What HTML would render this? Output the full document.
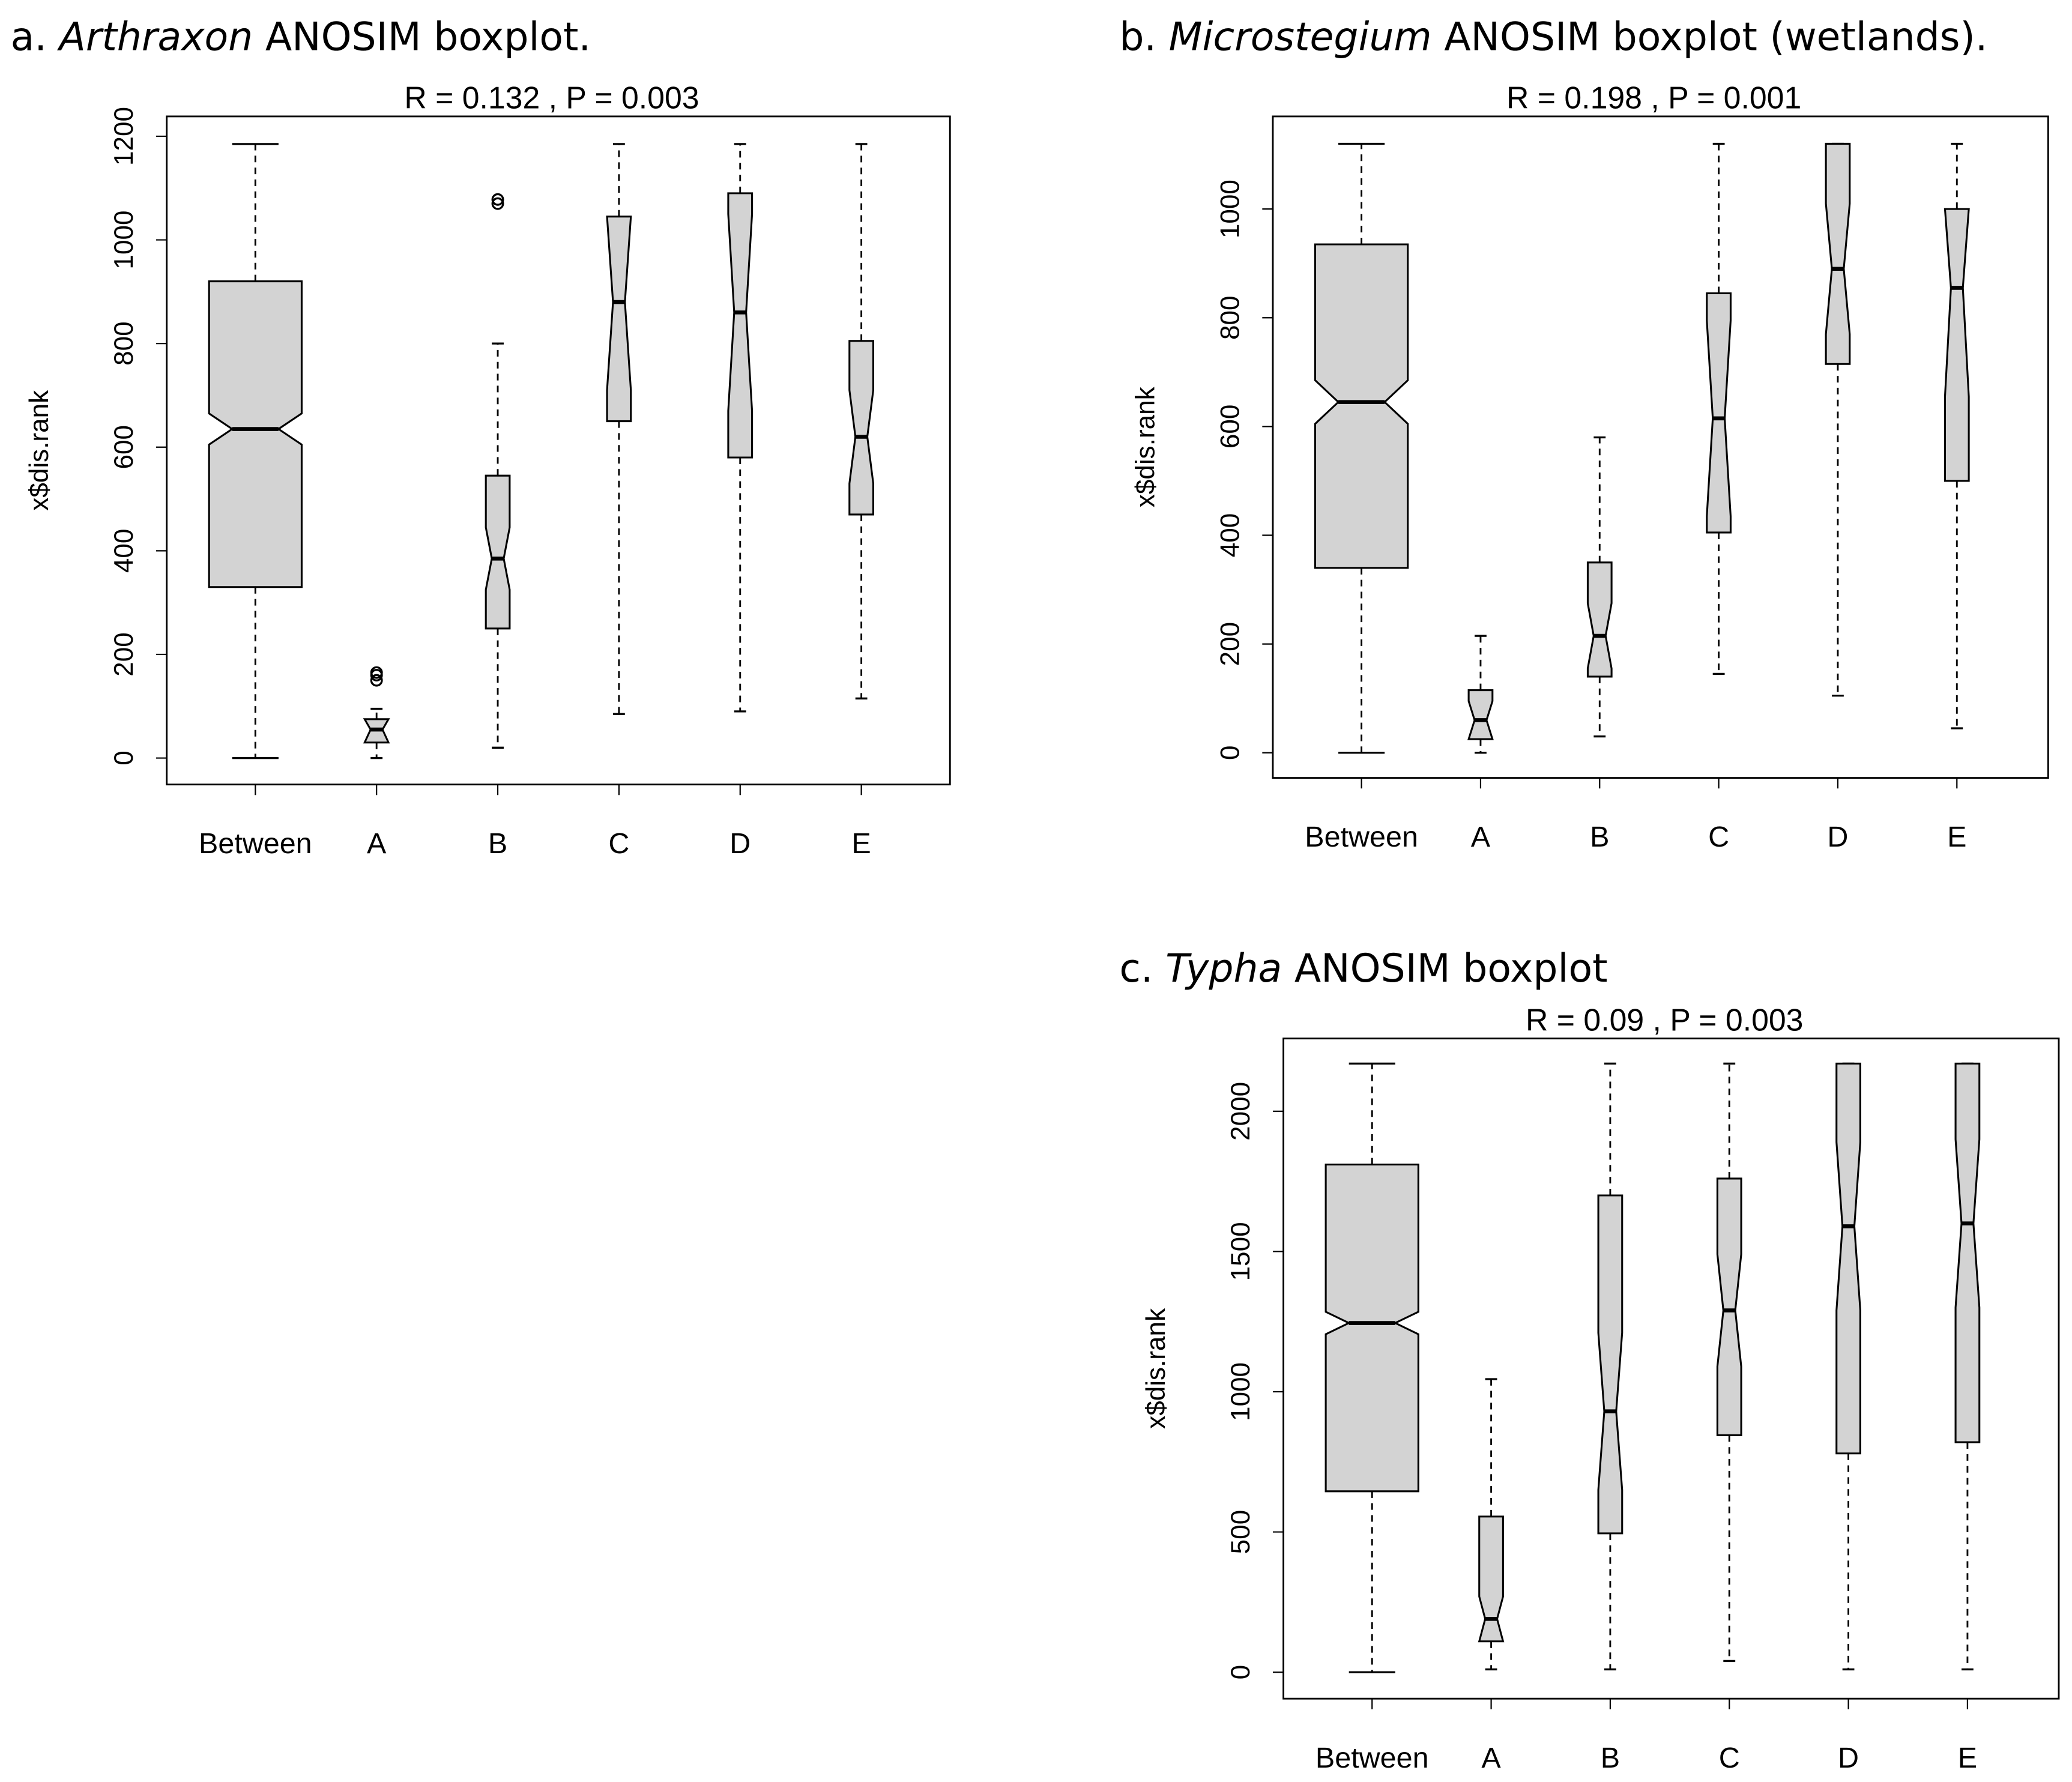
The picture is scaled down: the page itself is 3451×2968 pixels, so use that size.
<!DOCTYPE html>
<html><head><meta charset="utf-8"><style>
html,body{margin:0;padding:0;background:#fff;}
svg{display:block;}
text{font-family:"Liberation Sans",sans-serif;}
.ttl{font-family:"DejaVu Sans","Liberation Sans",sans-serif;font-size:29.4px;}
</style></head><body>
<svg id="chart" width="3451" height="2968" viewBox="0 0 1566 1347" preserveAspectRatio="none" xmlns="http://www.w3.org/2000/svg">
<text class="ttl" x="8" y="38">a. <tspan font-style="italic">Arthraxon</tspan> ANOSIM boxplot.</text>
<text class="ttl" x="846" y="38">b. <tspan font-style="italic">Microstegium</tspan> ANOSIM boxplot (wetlands).</text>
<text class="ttl" x="846" y="742">c. <tspan font-style="italic">Typha</tspan> ANOSIM boxplot</text>
</svg>
<script>
const categories = ["Between","A","B","C","D","E"];
// panel a
const aMin=[0,0,20,85,90,115], aQ1=[330,30,250,650,580,470], aMed=[635,55,385,880,860,620], aQ3=[920,75,545,1045,1090,805], aMax=[1185,95,800,1185,1185,1185];
const aNotch=[30,25,60,170,190,90];
const aOutX=[1,1,1,2,2], aOutY=[150,160,165,1070,1078];
const aTicks=[0,200,400,600,800,1000,1200];
// panel b
const bMin=[0,0,30,145,105,45], bQ1=[340,25,140,405,715,500], bMed=[645,60,215,615,890,855], bQ3=[935,115,350,845,1120,1000], bMax=[1120,215,580,1120,1120,1120];
const bNotch=[40,35,60,180,120,200];
const bTicks=[0,200,400,600,800,1000];
// panel c
const cMin=[0,10,10,40,10,10], cQ1=[645,110,495,845,780,820], cMed=[1245,190,930,1290,1590,1600], cQ3=[1810,555,1700,1760,2170,2170], cMax=[2170,1045,2170,2170,2170,2170];
const cNotch=[40,80,280,200,300,300];
const cTicks=[0,500,1000,1500,2000];

const svg=document.getElementById('chart');
const NS='http://www.w3.org/2000/svg';
function mk(tag,attrs,parent){const e=document.createElementNS(NS,tag);for(const k in attrs)e.setAttribute(k,attrs[k]);(parent||svg).appendChild(e);return e;}

function panel(id,P,d){
  const g=mk('g',{});
  
  
  const y=v=>P.y0-(v)*P.k;
  const fr=mk('rect',{x:P.L,y:P.T,width:P.R-P.L,height:P.B-P.T,fill:'none',stroke:'#000','stroke-width':1.3},g);
  
  
  const st=mk('text',{x:(P.L+P.R)/2-5,y:P.T-6,'font-size':23.5,'text-anchor':'middle','xml:space':'preserve'},g);
  st.textContent=d.stat;
  
  
  const t0=d.ticks[0],t1=d.ticks[d.ticks.length-1];
  mk('line',{x1:P.L,x2:P.L,y1:y(t0),y2:y(t1),stroke:'#000','stroke-width':1},g);
  d.ticks.forEach(t=>{
    mk('line',{x1:P.L-8,x2:P.L,y1:y(t),y2:y(t),stroke:'#000','stroke-width':1},g);
    const tx=mk('text',{x:0,y:0,'font-size':20,'text-anchor':'middle',transform:`translate(${P.L-31},${y(t)}) rotate(-90)`,'dominant-baseline':'middle'},g);
    tx.textContent=t;
    
    
  });
  const yt=mk('text',{x:0,y:0,'font-size':20,'text-anchor':'middle',transform:`translate(${P.L-95},${(P.T+P.B)/2}) rotate(-90)`,'dominant-baseline':'middle'},g);
  yt.textContent='x$dis.rank';
  
  
  const xs=categories.map((c,i)=>P.x0+i*P.dx);
  mk('line',{x1:xs[0],x2:xs[5],y1:P.B,y2:P.B,stroke:'#000','stroke-width':1},g);
  categories.forEach((c,i)=>{
    const x=xs[i];
    mk('line',{x1:x,x2:x,y1:P.B,y2:P.B+8,stroke:'#000','stroke-width':1},g);
    const lb=mk('text',{x:x,y:P.B+52,'font-size':22,'text-anchor':'middle'},g);
    lb.textContent=c;
    
    
    const hw=i===0?35:9;
    const lo=Math.max(d.q1[i],d.med[i]-d.notch[i]), hi=Math.min(d.q3[i],d.med[i]+d.notch[i]);
    const bg=mk('g',{},g);
    
    
    mk('line',{x1:x,x2:x,y1:y(d.q3[i]),y2:y(d.max[i]),stroke:'#000','stroke-width':1.3,'stroke-dasharray':'5,4'},bg);
    mk('line',{x1:x,x2:x,y1:y(d.q1[i]),y2:y(d.min[i]),stroke:'#000','stroke-width':1.3,'stroke-dasharray':'5,4'},bg);
    const sw=hw/2;
    mk('line',{x1:x-sw,x2:x+sw,y1:y(d.max[i]),y2:y(d.max[i]),stroke:'#000','stroke-width':1.5},bg);
    mk('line',{x1:x-sw,x2:x+sw,y1:y(d.min[i]),y2:y(d.min[i]),stroke:'#000','stroke-width':1.5},bg);
    const pts=[[x-hw,d.q1[i]],[x-hw,lo],[x-hw/2,d.med[i]],[x-hw,hi],[x-hw,d.q3[i]],[x+hw,d.q3[i]],[x+hw,hi],[x+hw/2,d.med[i]],[x+hw,lo],[x+hw,d.q1[i]]];
    mk('polygon',{points:pts.map(p=>p[0]+','+y(p[1])).join(' '),fill:'#d3d3d3',stroke:'#000','stroke-width':1.4},bg);
    mk('line',{x1:x-hw/2,x2:x+hw/2,y1:y(d.med[i]),y2:y(d.med[i]),stroke:'#000','stroke-width':3},bg);
  });
  if(d.outX){d.outX.forEach((gi,j)=>{
    const c=mk('circle',{cx:xs[gi],cy:y(d.outY[j]),r:4,fill:'none',stroke:'#000','stroke-width':1.5},g);
    
    
  });}
}
panel('panel-a',{L:126,R:718,T:88,B:593,y0:573,k:470/1200,x0:193,dx:91.6},
 {min:aMin,q1:aQ1,med:aMed,q3:aQ3,max:aMax,notch:aNotch,ticks:aTicks,outX:aOutX,outY:aOutY,stat:'R =  0.132 ,  P =  0.003'});
panel('panel-b',{L:962,R:1548,T:88,B:588,y0:569,k:411/1000,x0:1029,dx:90},
 {min:bMin,q1:bQ1,med:bMed,q3:bQ3,max:bMax,notch:bNotch,ticks:bTicks,stat:'R =  0.198 ,  P =  0.001'});
panel('panel-c',{L:970,R:1556,T:785,B:1284,y0:1264,k:424/2000,x0:1037,dx:90},
 {min:cMin,q1:cQ1,med:cMed,q3:cQ3,max:cMax,notch:cNotch,ticks:cTicks,stat:'R =  0.09 ,  P =  0.003'});
</script>
</body></html>
